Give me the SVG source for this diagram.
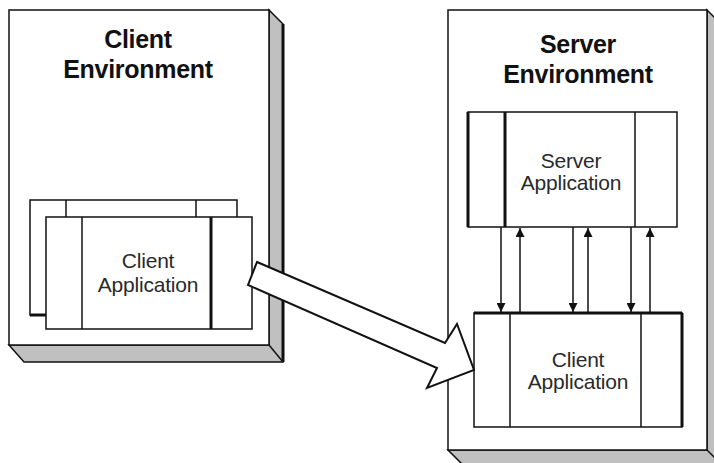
<svg xmlns="http://www.w3.org/2000/svg" width="714" height="463" viewBox="0 0 714 463">
<style>
.env{fill:#fff;stroke:#111;stroke-width:1.5}
.shadow{fill:#c0c0c0;stroke:#111;stroke-width:1.5;stroke-linejoin:miter}
.box{fill:#fff;stroke:#111;stroke-width:1.5}
.div{stroke:#111;stroke-width:1.5}
.thick{stroke:#111;stroke-width:3}
.title{font-family:"Liberation Sans",Arial,sans-serif;font-weight:bold;font-size:25px;fill:#111;text-anchor:middle;letter-spacing:-0.3px}
.lbl{font-family:"Liberation Sans",Arial,sans-serif;font-size:21px;fill:#2a2a2a;text-anchor:middle;letter-spacing:-0.2px}
.ln{stroke:#111;stroke-width:1.5;fill:none}
</style>
<defs>
<marker id="ah" viewBox="0 0 10 10" refX="10" refY="5" markerWidth="10" markerHeight="9" markerUnits="userSpaceOnUse" orient="auto">
<path d="M0,0 L10,5 L0,10 z" fill="#111"/>
</marker>
</defs>

<g id="client-env">
<polygon class="shadow" points="269,10 283,24 283,362 24,362 9,345 269,345"/>
<line x1="283" y1="24" x2="283" y2="362" class="thick"/>
<line x1="269" y1="345" x2="283" y2="362" class="ln"/>
<rect class="env" x="9" y="10" width="260" height="335"/>
<text class="title" x="138" y="48">Client</text>
<text class="title" x="138" y="78">Environment</text>
</g>

<g id="client-app-back">
<rect class="box" x="30" y="200" width="207" height="115"/>
<line class="div" x1="66" y1="200" x2="66" y2="217"/>
<line class="div" x1="196" y1="200" x2="196" y2="217"/>
<line class="thick" x1="30" y1="315" x2="46" y2="315"/>
</g>

<g id="client-app">
<rect class="box" x="46" y="217" width="206" height="112"/>
<line class="div" x1="82" y1="217" x2="82" y2="329"/>
<line class="thick" x1="211" y1="217" x2="211" y2="329"/>
<text class="lbl" x="148" y="268">Client</text>
<text class="lbl" x="148" y="292">Application</text>
</g>

<g id="server-env">
<polygon class="shadow" points="707,10 722,25 722,470 463,465 448,450 707,450"/>
<line x1="707" y1="450" x2="722" y2="465" class="ln"/>
<rect class="env" x="448" y="10" width="259" height="440"/>
<text class="title" x="578" y="53">Server</text>
<text class="title" x="578" y="83">Environment</text>
</g>

<g id="server-app">
<rect class="box" x="468" y="112" width="209" height="115"/>
<line class="thick" x1="468" y1="112" x2="468" y2="227"/>
<line class="thick" x1="505" y1="112" x2="505" y2="227"/>
<line class="div" x1="635" y1="112" x2="635" y2="227"/>
<text class="lbl" x="571" y="168">Server</text>
<text class="lbl" x="571" y="190">Application</text>
</g>

<g id="server-client-app">
<rect class="box" x="474" y="313" width="208" height="114"/>
<line class="thick" x1="474" y1="313" x2="682" y2="313"/>
<line class="thick" x1="682" y1="313" x2="682" y2="427"/>
<line class="div" x1="510" y1="313" x2="510" y2="427"/>
<line class="div" x1="641" y1="313" x2="641" y2="427"/>
<text class="lbl" x="578" y="367">Client</text>
<text class="lbl" x="578" y="389">Application</text>
</g>

<g id="connectors">
<line class="ln" x1="501" y1="227" x2="501" y2="312" marker-end="url(#ah)"/>
<line class="ln" x1="520" y1="312" x2="520" y2="228" marker-end="url(#ah)"/>
<line class="ln" x1="573" y1="227" x2="573" y2="312" marker-end="url(#ah)"/>
<line class="ln" x1="588" y1="312" x2="588" y2="228" marker-end="url(#ah)"/>
<line class="ln" x1="631" y1="227" x2="631" y2="312" marker-end="url(#ah)"/>
<line class="ln" x1="650" y1="312" x2="650" y2="228" marker-end="url(#ah)"/>
<polygon id="deploy-arrow" points="257,262 445,343 457,324 474,370 427,388 437,368 248,285" fill="#fff" stroke="#111" stroke-width="2" stroke-linejoin="miter"/>
</g>
</svg>
